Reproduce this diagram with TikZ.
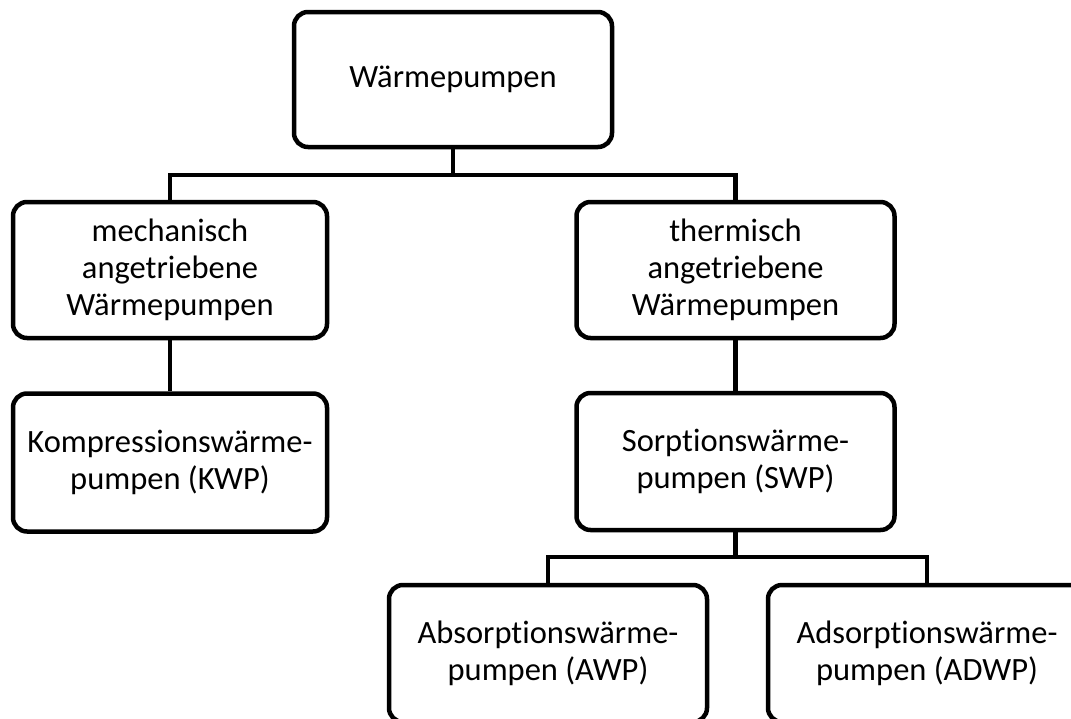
\documentclass[tikz,border=0pt]{standalone}
\usepackage{fontspec}
\setmainfont{Carlito}[Ligatures=NoCommon]
\begin{document}
\begin{tikzpicture}[x=1pt,y=-1pt,
  box/.style={draw=black, line width=4.5pt, rounded corners=14pt, fill=white,
    align=center, inner sep=0pt, font=\fontsize{32.5}{37}\selectfont},
  link/.style={draw=black, line width=4.5pt}]
  \useasboundingbox (0,0) rectangle (1071,718);
  \clip (0,0) rectangle (1071,718);
  % tree boxes
  \node[box, minimum width=318pt, minimum height=135pt] (root) at (453,79.5) {Wärmepumpen};
  \node[box, minimum width=314pt, minimum height=136pt] (mech) at (170,270) {mechanisch\\angetriebene\\Wärmepumpen};
  \node[box, minimum width=318pt, minimum height=136pt] (therm) at (735.5,270) {thermisch\\angetriebene\\Wärmepumpen};
  \node[box, minimum width=314pt, minimum height=138pt] (kwp) at (170,462.5) {Kompressionswärme-\\pumpen (KWP)};
  \node[box, minimum width=318pt, minimum height=137pt] (swp) at (735.5,461.5) {Sorptionswärme-\\pumpen (SWP)};
  \node[box, minimum width=318pt, minimum height=137pt] (awp) at (548,653.5) {Absorptionswärme-\\pumpen (AWP)};
  \node[box, minimum width=318pt, minimum height=137pt] (adwp) at (927,653.5) {Adsorptionswärme-\\pumpen (ADWP)};
  % junction points of the branches
  \coordinate (j1) at (453,175);
  \coordinate (j2) at (735.5,557);
  % connectors
  \draw[link] (root.south) -- (j1);
  \draw[link] (mech.north) |- (j1) -| (therm.north);
  \draw[link] (mech.south) -- (kwp.north);
  \draw[link] (therm.south) -- (swp.north);
  \draw[link] (swp.south) -- (j2);
  \draw[link] (awp.north) |- (j2) -| (adwp.north);
\end{tikzpicture}
\end{document}
